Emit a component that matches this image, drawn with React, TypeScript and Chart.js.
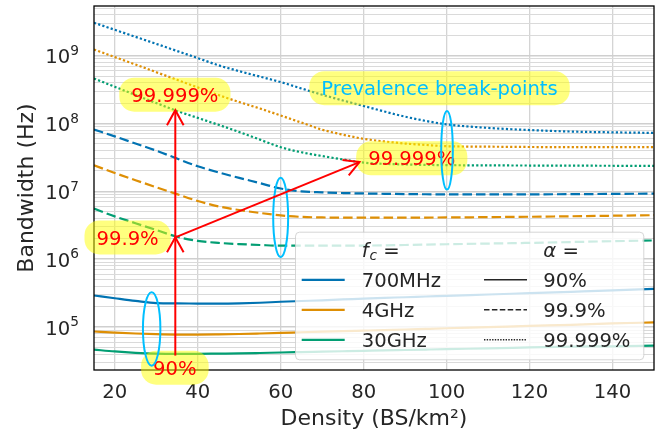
import React, { useEffect, useRef } from 'react';
import { Chart, registerables } from 'chart.js';

Chart.register(...registerables);

// ---------------- data ----------------
const densities = [15, 20, 25, 30, 35, 40, 45, 50, 55, 60, 65, 70, 75, 80, 85, 90, 95, 100, 110, 120, 130, 140, 150];

const carriers = ['700MHz', '4GHz', '30GHz'];
const reliabilities = ['90%', '99.9%', '99.999%'];

const bw700MHz_90 = [2.92e5, 2.66e5, 2.43e5, 2.25e5, 2.23e5, 2.22e5, 2.21e5, 2.23e5, 2.28e5, 2.36e5, 2.42e5, 2.48e5, 2.55e5, 2.63e5, 2.7e5, 2.75e5, 2.82e5, 2.88e5, 3.02e5, 3.16e5, 3.31e5, 3.47e5, 3.66e5];
const bw4GHz_90 = [8.6e4, 8.3e4, 8.04e4, 7.85e4, 7.76e4, 7.76e4, 7.81e4, 7.9e4, 8.04e4, 8.2e4, 8.38e4, 8.55e4, 8.7e4, 8.87e4, 9.04e4, 9.2e4, 9.4e4, 9.6e4, 9.98e4, 1.04e5, 1.08e5, 1.13e5, 1.17e5];
const bw30GHz_90 = [4.66e4, 4.37e4, 4.17e4, 4.05e4, 4.02e4, 4.03e4, 4.06e4, 4.09e4, 4.15e4, 4.22e4, 4.28e4, 4.34e4, 4.4e4, 4.46e4, 4.52e4, 4.59e4, 4.66e4, 4.73e4, 4.86e4, 5.01e4, 5.16e4, 5.21e4, 5.33e4];

const bw700MHz_999 = [8.15e7, 6.45e7, 5.07e7, 3.98e7, 3.04e7, 2.34e7, 1.9e7, 1.58e7, 1.32e7, 1.1e7, 1.0e7, 9.66e6, 9.44e6, 9.3e6, 9.2e6, 9.12e6, 9.05e6, 9.0e6, 8.99e6, 9.02e6, 9.08e6, 9.16e6, 9.25e6];
const bw4GHz_999 = [2.42e7, 1.86e7, 1.46e7, 1.15e7, 9.1e6, 7.2e6, 6.0e6, 5.3e6, 4.8e6, 4.42e6, 4.2e6, 4.12e6, 4.1e6, 4.09e6, 4.09e6, 4.1e6, 4.11e6, 4.12e6, 4.17e6, 4.22e6, 4.29e6, 4.37e6, 4.45e6];
const bw30GHz_999 = [5.56e6, 4.27e6, 3.39e6, 2.69e6, 2.14e6, 1.86e6, 1.74e6, 1.67e6, 1.62e6, 1.58e6, 1.58e6, 1.58e6, 1.58e6, 1.585e6, 1.6e6, 1.62e6, 1.64e6, 1.66e6, 1.7e6, 1.74e6, 1.79e6, 1.84e6, 1.89e6];

const bw700MHz_99999 = [3.05e9, 2.4e9, 1.89e9, 1.49e9, 1.17e9, 9.2e8, 7.2e8, 5.9e8, 4.9e8, 4.07e8, 3.28e8, 2.65e8, 2.18e8, 1.81e8, 1.5e8, 1.26e8, 1.09e8, 9.7e7, 8.6e7, 8.0e7, 7.6e7, 7.4e7, 7.26e7];
const bw4GHz_99999 = [1.23e9, 9.5e8, 7.4e8, 5.7e8, 4.4e8, 3.4e8, 2.62e8, 2.07e8, 1.66e8, 1.31e8, 1.03e8, 8.1e7, 6.84e7, 5.94e7, 5.43e7, 5.06e7, 4.82e7, 4.62e7, 4.55e7, 4.5e7, 4.48e7, 4.47e7, 4.47e7];
const bw30GHz_99999 = [4.6e8, 3.47e8, 2.63e8, 2.0e8, 1.53e8, 1.21e8, 9.55e7, 7.5e7, 5.78e7, 4.47e7, 3.76e7, 3.31e7, 2.95e7, 2.65e7, 2.54e7, 2.49e7, 2.45e7, 2.43e7, 2.41e7, 2.4e7, 2.39e7, 2.38e7, 2.37e7];

const xTickValues = [20, 40, 60, 80, 100, 120, 140];
const yDecades = [5, 6, 7, 8, 9];
const xMin = 15;
const xMax = 150;
const yMin = 2.33e4;
const yMax = 5.38e9;

// annotations (data coordinates)
const ellipseSpecs = [
  { x: 28.9, lo: 2.7e4, hi: 3.27e5, halfWidth: 2.1 },
  { x: 60.0, lo: 1.07e6, hi: 1.59e7, halfWidth: 1.8 },
  { x: 100.1, lo: 1.06e7, hi: 1.53e8, halfWidth: 1.4 },
];
const arrowSpecs = [
  { from: [34.6, 3.8e4], to: [34.6, 2.1e6] },
  { from: [34.6, 2.1e6], to: [34.6, 1.57e8] },
  { from: [34.6, 2.1e6], to: [79.0, 2.7e7] },
];
const labelSpecs = [
  { text: '99.999%', x: 34.5, y: 2.66e8, color: '#ff0000' },
  { text: '99.9%', x: 23.1, y: 2.09e6, color: '#ff0000' },
  { text: '90%', x: 34.5, y: 2.52e4, color: '#ff0000' },
  { text: '99.999%', x: 91.6, y: 3.07e7, color: '#ff0000' },
  { text: 'Prevalence break-points', x: 98.3, y: 3.31e8, color: '#00bfff' },
];

// ---------------- styles ----------------
const FONT = "'DejaVu Sans', sans-serif";
const TEXT = '#262626';
const carrierColors = ['#0173b2', '#de8f05', '#029e73'];
const reliabilityDash: number[][] = [[], [9.5, 4], [2.2, 2.2]];
const legendDash: number[][] = [[], [5.5, 2.4], [1.4, 1.3]];

const seriesTable = [
  [bw700MHz_90, bw700MHz_999, bw700MHz_99999],
  [bw4GHz_90, bw4GHz_999, bw4GHz_99999],
  [bw30GHz_90, bw30GHz_999, bw30GHz_99999],
];

function roundRectPath(ctx: CanvasRenderingContext2D, x: number, y: number, w: number, h: number, r: number) {
  const rr = Math.min(r, h / 2, w / 2);
  ctx.beginPath();
  ctx.moveTo(x + rr, y);
  ctx.lineTo(x + w - rr, y);
  ctx.arcTo(x + w, y, x + w, y + rr, rr);
  ctx.lineTo(x + w, y + h - rr);
  ctx.arcTo(x + w, y + h, x + w - rr, y + h, rr);
  ctx.lineTo(x + rr, y + h);
  ctx.arcTo(x, y + h, x, y + h - rr, rr);
  ctx.lineTo(x, y + rr);
  ctx.arcTo(x, y, x + rr, y, rr);
  ctx.closePath();
}

const overlayPlugin = {
  id: 'overlay',
  afterDatasetsDraw(chart: any) {
    const ctx: CanvasRenderingContext2D = chart.ctx;
    const { left, right, top, bottom } = chart.chartArea;
    const xs = chart.scales.x;
    const ys = chart.scales.y;
    const px = (v: number) => xs.getPixelForValue(v);
    const py = (v: number) => ys.getPixelForValue(v);
    ctx.save();

    // spines
    ctx.strokeStyle = '#000';
    ctx.lineWidth = 1.3;
    ctx.setLineDash([]);
    ctx.strokeRect(left, top, right - left, bottom - top);

    // y tick labels 10^n
    ctx.fillStyle = TEXT;
    ctx.textAlign = 'left';
    ctx.textBaseline = 'alphabetic';
    for (const e of yDecades) {
      const y = py(Math.pow(10, e));
      ctx.font = `19.6px ${FONT}`;
      const w1 = ctx.measureText('10').width;
      ctx.font = `13.7px ${FONT}`;
      const w2 = ctx.measureText(String(e)).width;
      const xr = left - 15;
      ctx.font = `19.6px ${FONT}`;
      ctx.fillText('10', xr - w2 - w1, y + 7.5);
      ctx.font = `13.7px ${FONT}`;
      ctx.fillText(String(e), xr - w2, y + 7.5 - 8.3);
    }

    // axis titles
    ctx.font = `22px ${FONT}`;
    ctx.textAlign = 'center';
    ctx.fillText('Density (BS/km²)', (left + right) / 2, 424.5);
    ctx.save();
    ctx.translate(33, (top + bottom) / 2);
    ctx.rotate(-Math.PI / 2);
    ctx.fillText('Bandwidth (Hz)', 0, 0);
    ctx.restore();

    // label boxes
    ctx.font = `19.6px ${FONT}`;
    for (const l of labelSpecs) {
      const cx = px(l.x);
      const cy = py(l.y);
      const w = ctx.measureText(l.text).width;
      const bw = w + 24;
      const bh = 34;
      roundRectPath(ctx, cx - bw / 2, cy - bh / 2, bw, bh, 15);
      ctx.fillStyle = 'rgba(255,255,0,0.5)';
      ctx.fill();
      ctx.fillStyle = l.color;
      ctx.textAlign = 'center';
      ctx.fillText(l.text, cx, cy + 7.1);
    }

    // ellipses
    ctx.strokeStyle = '#00bfff';
    ctx.lineWidth = 2;
    for (const e of ellipseSpecs) {
      const cx = px(e.x);
      const y1 = py(e.hi);
      const y2 = py(e.lo);
      const rx = px(e.x + e.halfWidth) - cx;
      ctx.beginPath();
      ctx.ellipse(cx, (y1 + y2) / 2, rx, (y2 - y1) / 2, 0, 0, Math.PI * 2);
      ctx.stroke();
    }

    // arrows
    ctx.strokeStyle = '#ff0000';
    ctx.lineWidth = 2;
    for (const a of arrowSpecs) {
      const x1 = px(a.from[0]);
      const y1 = py(a.from[1]);
      const x2 = px(a.to[0]);
      const y2 = py(a.to[1]);
      const ang = Math.atan2(y2 - y1, x2 - x1);
      const dx = Math.cos(ang);
      const dy = Math.sin(ang);
      ctx.beginPath();
      ctx.moveTo(x1, y1);
      ctx.lineTo(x2, y2);
      ctx.stroke();
      const hl = 15;
      const hw = 8.3;
      ctx.beginPath();
      ctx.moveTo(x2 - hl * dx - hw * dy, y2 - hl * dy + hw * dx);
      ctx.lineTo(x2, y2);
      ctx.lineTo(x2 - hl * dx + hw * dy, y2 - hl * dy - hw * dx);
      ctx.stroke();
    }

    // legend
    const lw = 348.3;
    const lh = 127.6;
    const lx = right - 10.7 - lw;
    const ly = bottom - 10.7 - lh;
    roundRectPath(ctx, lx + 0.5, ly + 0.5, lw, lh, 4);
    ctx.fillStyle = 'rgba(255,255,255,0.8)';
    ctx.fill();
    ctx.strokeStyle = 'rgba(204,204,204,0.8)';
    ctx.lineWidth = 1;
    ctx.stroke();

    const col1Handle = lx + 6.7;
    const col1Text = lx + 66.7;
    const col2Handle = lx + 189;
    const col2Text = lx + 248.3;
    const handleLen = 43;
    const baselines = [ly + 25.6, ly + 55.6, ly + 85.6, ly + 115.6];
    ctx.textAlign = 'left';
    ctx.fillStyle = TEXT;
    // titles
    ctx.font = `italic 19.6px ${FONT}`;
    ctx.fillText('f', col1Text, baselines[0]);
    const fw = ctx.measureText('f').width;
    ctx.font = `italic 13.7px ${FONT}`;
    ctx.fillText('c', col1Text + fw + 1, baselines[0] + 3);
    const cw = ctx.measureText('c').width;
    ctx.font = `19.6px ${FONT}`;
    ctx.fillText(' =', col1Text + fw + 1 + cw, baselines[0]);
    ctx.font = `italic 19.6px ${FONT}`;
    ctx.fillText('α', col2Text, baselines[0]);
    const aw = ctx.measureText('α').width;
    ctx.font = `19.6px ${FONT}`;
    ctx.fillText(' =', col2Text + aw, baselines[0]);

    for (let i = 0; i < 3; i++) {
      const b = baselines[i + 1];
      const hy = b - 7.5;
      ctx.setLineDash([]);
      ctx.strokeStyle = carrierColors[i];
      ctx.lineWidth = 2.2;
      ctx.beginPath();
      ctx.moveTo(col1Handle, hy);
      ctx.lineTo(col1Handle + handleLen, hy);
      ctx.stroke();
      ctx.fillStyle = TEXT;
      ctx.font = `19.6px ${FONT}`;
      ctx.fillText(carriers[i], col1Text, b);

      ctx.strokeStyle = '#262626';
      ctx.lineWidth = 1.5;
      ctx.setLineDash(legendDash[i]);
      ctx.beginPath();
      ctx.moveTo(col2Handle, hy);
      ctx.lineTo(col2Handle + handleLen, hy);
      ctx.stroke();
      ctx.setLineDash([]);
      ctx.fillText(reliabilities[i], col2Text, b);
    }

    ctx.restore();
  },
};

export default function App() {
  const canvasRef = useRef<HTMLCanvasElement | null>(null);

  useEffect(() => {
    document.body.style.margin = '0';
    const canvas = canvasRef.current;
    if (!canvas) return;

    const datasets: any[] = [];
    for (let c = 0; c < 3; c++) {
      for (let r = 0; r < 3; r++) {
        const vals = seriesTable[c][r];
        datasets.push({
          label: `${carriers[c]} ${reliabilities[r]}`,
          data: densities.map((d, i) => ({ x: d, y: vals[i] })),
          borderColor: carrierColors[c],
          backgroundColor: carrierColors[c],
          borderWidth: 2.2,
          borderDash: reliabilityDash[r],
          borderCapStyle: 'butt',
          pointRadius: 0,
          fill: false,
          cubicInterpolationMode: 'monotone',
        });
      }
    }

    const chart = new Chart(canvas, {
      type: 'line',
      data: { datasets },
      options: {
        responsive: false,
        animation: false,
        layout: { padding: { top: 6, right: 16, left: 0, bottom: 0 } },
        plugins: { legend: { display: false }, tooltip: { enabled: false } },
        scales: {
          x: {
            type: 'linear',
            min: xMin,
            max: xMax,
            afterBuildTicks: (s: any) => {
              s.ticks = xTickValues.map((v) => ({ value: v }));
            },
            afterFit: (s: any) => {
              s.height = 63;
            },
            grid: { color: '#d4d4d4', lineWidth: 1.3, drawTicks: false },
            border: { display: false },
            ticks: {
              padding: 11,
              color: TEXT,
              autoSkip: false,
              maxRotation: 0,
              font: { family: FONT, size: 19.6 },
            },
          },
          y: {
            type: 'logarithmic',
            min: yMin,
            max: yMax,
            afterBuildTicks: (s: any) => {
              const t: any[] = [];
              for (let e = 4; e <= 9; e++) {
                for (let k = 1; k <= 9; k++) {
                  const v = k * Math.pow(10, e);
                  if (v >= yMin && v <= yMax) t.push({ value: v });
                }
              }
              s.ticks = t;
            },
            afterFit: (s: any) => {
              s.width = 94;
            },
            grid: {
              drawTicks: false,
              color: (ctx: any) => {
                const v = ctx.tick ? ctx.tick.value : 0;
                const m = v / Math.pow(10, Math.floor(Math.log10(v) + 1e-9));
                return Math.abs(m - 1) < 1e-6 ? '#cfcfcf' : '#dadada';
              },
              lineWidth: (ctx: any) => {
                const v = ctx.tick ? ctx.tick.value : 0;
                const m = v / Math.pow(10, Math.floor(Math.log10(v) + 1e-9));
                return Math.abs(m - 1) < 1e-6 ? 1.4 : 1.0;
              },
            },
            border: { display: false },
            ticks: { display: false },
          },
        },
      },
      plugins: [overlayPlugin],
    });

    return () => {
      chart.destroy();
    };
  }, []);

  return (
    <div style={{ position: 'absolute', left: 0, top: 0, width: 670, height: 433, background: '#fff' }}>
      <canvas ref={canvasRef} width={670} height={433} style={{ width: 670, height: 433, display: 'block' }} />
    </div>
  );
}
